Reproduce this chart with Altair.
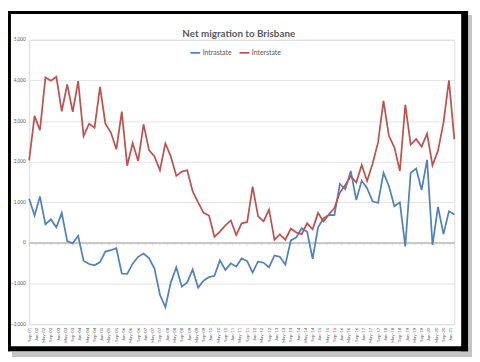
import altair as alt
import pandas as pd

# Quarterly observations, Sep-2001 .. Mar-2021
dates = [d.strftime("%Y-%m-%d") for d in pd.date_range("2001-09-01", periods=79, freq="3MS")]

intrastate = [
    1089, 677, 1145, 460, 581, 387, 742, 48, -8, 177,
    -435, -516, -548, -468, -210, -177, -129, -750, -758, -508,
    -340, -258, -371, -629, -1274, -1581, -968, -597, -1073, -968,
    -653, -1097, -927, -839, -806, -427, -661, -500, -581, -379,
    -444, -726, -452, -484, -597, -306, -339, -532, 65, 137,
    363, 274, -387, 387, 605, 694, 685, 1452, 1323, 1774,
    1055, 1535, 1347, 1024, 984, 1726, 1403, 903, 1000, -81,
    1726, 1831, 1306, 2048, -48, 887, 218, 782, 702,
]
interstate = [
    2032, 3129, 2774, 4073, 3992, 4089, 3242, 3903, 3226, 3984,
    2629, 2935, 2839, 3839, 2935, 2718, 2306, 3234, 1903, 2460,
    2020, 2919, 2290, 2129, 1790, 2452, 2129, 1653, 1758, 1790,
    1274, 1000, 742, 677, 153, 282, 435, 556, 194, 484,
    516, 1387, 661, 532, 823, 81, 210, 81, 355, 258,
    218, 484, 339, 742, 532, 702, 863, 1242, 1427, 1645,
    1490, 1920, 1524, 1952, 2476, 3500, 2637, 2355, 1774, 3403,
    2419, 2556, 2371, 2694, 1911, 2274, 2960, 4000, 2556,
]
series_names = ["Intrastate", "Interstate"]
series_colors = ["#4F81BD", "#C0504D"]

# axis tick positions (every 4 months)
tick_dates = [d.strftime("%Y-%m-%d") for d in pd.date_range("2001-09-01", "2021-01-01", freq="4MS")]
tick_values = [alt.DateTime(year=int(d[:4]), month=int(d[5:7]), date=1, utc=True) for d in tick_dates]
y_ticks = [-2000, -1000, 0, 1000, 2000, 3000, 4000, 5000]

df = pd.DataFrame({
    "date": dates * 2,
    "series": [series_names[0]] * len(dates) + [series_names[1]] * len(dates),
    "value": intrastate + interstate,
})
ticks_df = pd.DataFrame({"date": tick_dates})

FONT = "Lato"
GREY = "#595959"
GRID = "#dcdcdc"
AXIS = "#c8c8c8"

x_scale = alt.Scale(
    type="utc",
    domain=[alt.DateTime(year=2001, month=9, date=1, utc=True),
            alt.DateTime(year=2021, month=3, date=1, utc=True)],
)
y_scale = alt.Scale(domain=[-2000, 5000], nice=False, zero=False)

x_axis = alt.Axis(values=tick_values, format="%b-%y", labelAngle=270,
                  labelFontSize=4.5, labelFont=FONT, labelColor=GREY,
                  labelOverlap=False, labelFlush=False, labelPadding=3,
                  domain=False, ticks=False, grid=False, title=None)
y_axis = alt.Axis(values=y_ticks, format=",.0f", labelFontSize=4.8, labelFont=FONT,
                  labelColor=GREY, labelPadding=4, domain=False, ticks=False,
                  grid=True, gridColor=GRID, gridWidth=0.8, title=None)

lines = alt.Chart(df).mark_line(strokeWidth=1.75).encode(
    x=alt.X("date:T", scale=x_scale, axis=x_axis, title=None),
    y=alt.Y("value:Q", scale=y_scale, axis=y_axis, title=None),
    color=alt.Color("series:N", title=None,
                    scale=alt.Scale(domain=series_names, range=series_colors),
                    legend=alt.Legend(orient="none", legendX=163, legendY=7,
                                      direction="horizontal", symbolType="stroke",
                                      symbolSize=100, symbolStrokeWidth=1.75,
                                      labelFontSize=7, labelFont=FONT, labelColor=GREY,
                                      columnPadding=4, labelOffset=1.5, padding=0)),
)

# horizontal axis line crossing at zero, with small tick marks below it
zero_ticks = alt.Chart(ticks_df).mark_tick(
    color=AXIS, thickness=0.7, size=2.5, orient="vertical", yOffset=1.3
).encode(
    x=alt.X("date:T", scale=x_scale, axis=x_axis, title=None),
    y=alt.Y(datum=0, scale=y_scale, axis=y_axis, title=None),
)
zero_line = alt.Chart(ticks_df).mark_rule(color=AXIS, strokeWidth=0.8).encode(
    y=alt.Y(datum=0, scale=y_scale, axis=y_axis, title=None),
)

one = pd.DataFrame({"k": [0]})

def band(x1, x2, y1, y2, color):
    return alt.Chart(one).mark_rect(color=color).encode(
        x=alt.value(x1), x2=alt.value(x2), y=alt.value(y1), y2=alt.value(y2))

frame = [
    band(446.5, 450.5, -25.3, 322.7, "#c4c4c4"),
    band(-17.5, 450.5, 316.7, 322.7, "#c4c4c4"),
    band(-21.5, -18.5, -29.3, 316.7, "black"),
    band(-21.5, 446.5, -29.3, -26.3, "black"),
    band(439.5, 446.5, -29.3, 316.7, "black"),
    band(-21.5, 446.5, 311.7, 316.7, "black"),
]

chart = alt.layer(zero_line, zero_ticks, lines, *frame).properties(
    width=432.5,
    height=289.4,
    autosize=alt.AutoSizeParams(type="none"),
    padding={"left": 21.5, "top": 29.3, "right": 18, "bottom": 35.3},
    title=alt.TitleParams("Net migration to Brisbane", fontSize=10, font=FONT,
                          fontWeight="bold", color=GREY, anchor="middle",
                          frame="group", offset=-28, dx=-3),
).configure_view(stroke=None).configure(background="white")

chart.save("out.html", embed_options={"renderer": "svg", "actions": False})
